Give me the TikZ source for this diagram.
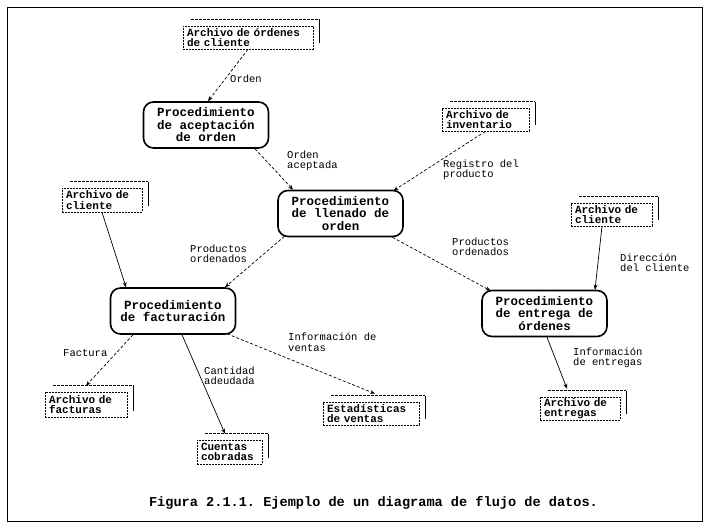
\documentclass[tikz,border=0pt]{standalone}
\usepackage{fontspec}
\setmonofont{Liberation Mono}
\usetikzlibrary{arrows.meta}
\begin{document}
\begin{tikzpicture}[x=1pt,y=-1pt,
  proc/.style={draw, line width=1.6pt, rounded corners=10pt, align=center,
    font=\fontsize{12.5}{12.5}\selectfont\ttfamily\bfseries, minimum width=125pt,
    minimum height=46pt, inner sep=1pt},
  store/.style={draw, dash pattern=on 2pt off 1pt, line width=0.6pt, align=left,
    font=\fontsize{11}{10.5}\selectfont\ttfamily\bfseries, inner xsep=4pt, inner ysep=0.5pt},
  lbl/.style={align=left, anchor=west, font=\fontsize{10.5}{10.5}\selectfont\ttfamily, inner sep=0pt},
  flow/.style={-{Stealth[length=5pt,width=4pt]}, line width=0.7pt},
  dflow/.style={flow, dash pattern=on 3pt off 2pt},
  toplin/.style={line width=0.6pt, dash pattern=on 3pt off 1pt},
  bar/.style={line width=1.3pt}]
\useasboundingbox (0,0) rectangle (707,529);
\draw[line width=0.9pt] (7,7) rectangle (702,521);

% processes
\node[proc] (acep) at (206,125) {Procedimiento\\de aceptación\\de orden};
\node[proc] (llen) at (340.5,213.5) {Procedimiento\\de llenado de\\orden};
\node[proc] (fact) at (173,311) {Procedimiento\\de facturación};
\node[proc] (entr) at (544.5,313.5) {Procedimiento\\de entrega de\\órdenes};

% stores
\node[store, text width=122pt, minimum height=23pt] (ord) at (248,37.5) {Archivo de órdenes\\de cliente};
\node[store, text width=79pt, minimum height=23pt] (inv) at (485.5,119.5) {Archivo de\\inventario};
\node[store, text width=72pt, minimum height=24pt] (cli1) at (102,200) {Archivo de\\cliente};
\node[store, text width=73pt, minimum height=23pt] (cli2) at (611.5,214.5) {Archivo de\\cliente};
\node[store, text width=74pt, minimum height=25pt] (fac) at (86,404.5) {Archivo de\\facturas};
\node[store, text width=57pt, minimum height=24pt] (cue) at (229.5,452) {Cuentas\\cobradas};
\node[store, text width=88pt, minimum height=23pt] (est) at (371,413.5) {Estadísticas\\de ventas};
\node[store, text width=72pt, minimum height=23pt] (ent) at (580,408.5) {Archivo de\\entregas};

\foreach \s in {ord,inv,cli1,cli2,fac,cue,est,ent}{
  \draw[toplin] ([xshift=8pt,yshift=6pt]\s.north west) -- ([xshift=6pt,yshift=6pt]\s.north east);
  \draw[bar] ([xshift=6pt,yshift=6pt]\s.north east) -- ([xshift=6pt,yshift=6pt]\s.south east);
}

% labels
\node[lbl] (l1) at (230,79) {Orden};
\node[lbl] (l2) at (287,161) {Orden\\aceptada};
\node[lbl] (l3) at (443,170) {Registro del\\producto};
\node[lbl] (l4) at (190,254) {Productos\\ordenados};
\node[lbl] (l5) at (452,247) {Productos\\ordenados};
\node[lbl] (l6) at (620,263) {Dirección\\del cliente};
\node[lbl] (l7) at (63,353) {Factura};
\node[lbl] (l8) at (204,376) {Cantidad\\adeudada};
\node[lbl] (l9) at (288,342) {Información de\\ventas};
\node[lbl] (l10) at (573,358) {Información\\de entregas};

% connectors
\draw[dflow] (ord.south) -- ([xshift=2pt]acep.north);
\draw[dflow] ([xshift=49pt]acep.south) -- ([xshift=-47.5pt]llen.north);
\draw[dflow] (inv.south) -- ([xshift=53pt,yshift=-1pt]llen.north);
\draw[flow] (cli1.south) -- ([xshift=-47pt]fact.north);
\draw[dflow] ([xshift=-56pt,yshift=1pt]llen.south) -- ([xshift=52pt]fact.north);
\draw[dflow] ([xshift=52pt]llen.south) -- ([xshift=-54pt,yshift=-1pt]entr.north);
\draw[flow] ([xshift=-9.5pt]cli2.south) -- ([xshift=50.5pt]entr.north);
\draw[flow] ([xshift=2.5pt]entr.south) -- ([xshift=-13pt,yshift=8pt]ent.north);
\draw[dflow] ([xshift=-40pt]fact.south) -- ([yshift=6pt]fac.north);
\draw[flow] ([xshift=9pt]fact.south) -- ([xshift=-4.5pt,yshift=6pt]cue.north);
\draw[dflow] ([xshift=54pt,yshift=1pt]fact.south) -- ([xshift=4pt,yshift=8pt]est.north);

% caption
\node[font=\fontsize{13.6}{13.6}\selectfont\ttfamily\bfseries, inner sep=0pt] (cap) at (373.5,503)
  {Figura 2.1.1. Ejemplo de un diagrama de flujo de datos.};
\end{tikzpicture}
\end{document}
